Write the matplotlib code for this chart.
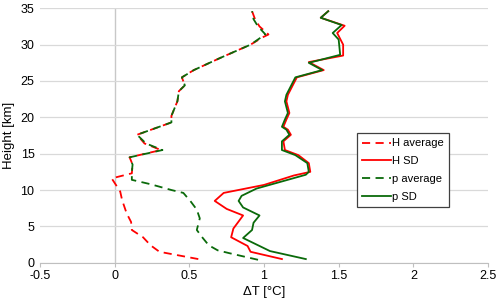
import numpy as np
import matplotlib
matplotlib.use("Agg")
import matplotlib.pyplot as plt

# H average (red dashed)
h_avg_h = [0.5, 1.5, 2.4, 3.5, 4.5, 5.6, 6.8, 8.6, 9.8, 11.6, 12.3, 13.5, 14.5, 15.5, 16.4,
           17.6, 19.3, 20.2, 22.2, 23.6, 24.4, 25.5, 26.5, 28.2, 30.0, 31.0, 31.4, 32.5, 33.5, 34.6]
h_avg_x = [0.56, 0.30, 0.24, 0.19, 0.115, 0.11, 0.08, 0.05, 0.037, -0.02, 0.115, 0.12, 0.10, 0.31, 0.20,
           0.15, 0.38, 0.38, 0.42, 0.43, 0.47, 0.45, 0.53, 0.71, 0.91, 0.99, 1.03, 0.97, 0.94, 0.92]

# p average (green dashed)
p_avg_h = [0.4, 1.3, 1.7, 2.4, 3.4, 4.5, 6.1, 7.3, 8.4, 9.6, 10.0, 10.8, 11.4, 12.5, 13.5, 14.5, 15.5, 16.4,
           17.6, 19.3, 20.2, 22.2, 23.6, 24.4, 25.5, 26.5, 28.2, 30.0, 31.0, 31.4, 32.5, 33.5, 34.6]
p_avg_x = [0.96, 0.77, 0.69, 0.63, 0.59, 0.55, 0.57, 0.55, 0.51, 0.46, 0.38, 0.24, 0.115, 0.115, 0.12, 0.10, 0.32, 0.21,
           0.15, 0.38, 0.38, 0.42, 0.43, 0.47, 0.45, 0.53, 0.71, 0.91, 0.98, 1.01, 0.96, 0.93, 0.92]

# H SD (red solid)
h_sd_h = [0.5, 1.5, 2.3, 3.5, 4.7, 6.5, 7.4, 8.5, 9.6, 10.7, 12.0, 12.5, 13.7, 14.8, 15.5, 16.7, 17.6, 18.3,
          18.7, 19.7, 20.6, 22.2, 23.1, 25.5, 26.5, 27.6, 28.5, 30.0, 31.6, 32.6, 33.7, 34.6]
h_sd_x = [1.12, 0.91, 0.89, 0.78, 0.795, 0.86, 0.75, 0.67, 0.73, 1.0, 1.2, 1.31, 1.30, 1.23, 1.14, 1.13, 1.18, 1.16,
          1.13, 1.15, 1.17, 1.15, 1.16, 1.22, 1.40, 1.30, 1.53, 1.53, 1.49, 1.54, 1.38, 1.43]

# p SD (green solid)
p_sd_h = [0.5, 1.6, 3.4, 4.5, 5.5, 6.5, 7.6, 8.5, 9.2, 10.2, 12.1, 12.5, 13.7, 14.8, 15.5, 16.7, 17.6, 18.3,
          18.7, 19.7, 20.6, 22.2, 23.1, 25.5, 26.5, 27.5, 28.6, 30.7, 31.6, 32.7, 33.7, 34.6]
p_sd_x = [1.28, 1.04, 0.86, 0.92, 0.93, 0.97, 0.86, 0.83, 0.85, 0.95, 1.28, 1.30, 1.29, 1.21, 1.12, 1.12, 1.17, 1.15,
          1.12, 1.14, 1.16, 1.14, 1.15, 1.21, 1.39, 1.30, 1.51, 1.50, 1.46, 1.52, 1.38, 1.43]

x_ticks = [-0.5, 0, 0.5, 1, 1.5, 2, 2.5]
x_labels = ["-0.5", "0", "0.5", "1", "1.5", "2", "2.5"]
y_ticks = [0, 5, 10, 15, 20, 25, 30, 35]

red = "#ff0000"
green = "#0a6a0a"

plt.rcParams['font.family'] = ['Liberation Sans', 'DejaVu Sans']

fig = plt.figure(figsize=(5, 3.03), dpi=100)
ax = fig.add_axes([0.08, 0.133, 0.896, 0.8396])

ax.plot(h_avg_x, h_avg_h, color=red, lw=1.3, dashes=(4.5, 3), label="H average")
ax.plot(h_sd_x, h_sd_h, color=red, lw=1.3, label="H SD")
ax.plot(p_avg_x, p_avg_h, color=green, lw=1.3, dashes=(4.5, 3), label="p average")
ax.plot(p_sd_x, p_sd_h, color=green, lw=1.3, label="p SD")

ax.set_xlim(-0.5, 2.5)
ax.set_ylim(0, 35)
ax.set_xticks(x_ticks)
ax.set_xticklabels(x_labels)
ax.set_yticks(y_ticks)
ax.grid(axis="y", color="#d9d9d9", lw=0.9)
ax.axvline(0, color="#c8c8c8", lw=1.0, zorder=0)
ax.set_axisbelow(True)

for s in ["left", "right", "top"]:
    ax.spines[s].set_visible(False)
ax.spines["bottom"].set_color("#bfbfbf")
ax.tick_params(axis="x", length=3, color="#bfbfbf", labelsize=9, pad=2)
ax.tick_params(axis="y", length=0, labelsize=9, pad=4)

ax.set_xlabel("ΔT [°C]", fontsize=9.5, labelpad=3)
ax.set_ylabel("Height [km]", fontsize=9.5, labelpad=4)

leg = ax.legend(loc="upper left", bbox_to_anchor=(0.695, 0.53), fontsize=8,
                handlelength=2.6, handletextpad=0.1, labelspacing=0.7,
                fancybox=False, framealpha=1, borderpad=0.45)
leg.get_frame().set_edgecolor("#404040")
leg.get_frame().set_linewidth(0.9)

fig.savefig("out.png", dpi=100)
